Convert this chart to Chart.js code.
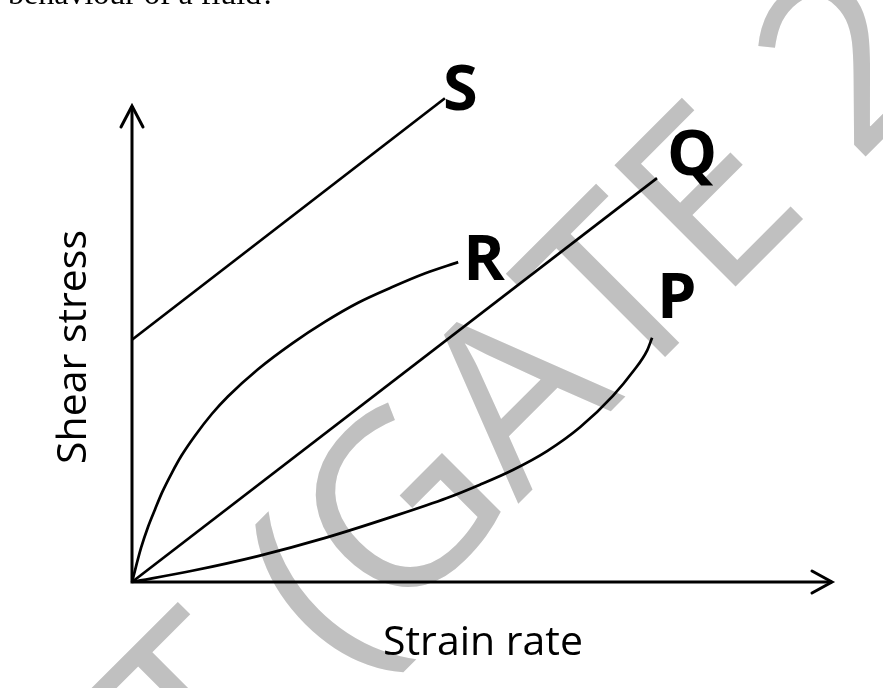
<!DOCTYPE html>
<html>
<head>
<meta charset="utf-8">
<script src="https://cdn.jsdelivr.net/npm/chart.js@4.4.0/dist/chart.umd.min.js"></script>
<style>
  html, body { margin: 0; padding: 0; background: #ffffff; }
  #wrap { width: 883px; height: 688px; }
</style>
</head>
<body>
<div id="wrap"><canvas id="c" width="883" height="688"></canvas></div>
<script>
// ---- data (arbitrary units) ----
const seriesNames = ['S', 'R', 'Q', 'P'];
const sX = [0, 4.47];
const sY = [3.46, 6.91];
const rX = [0, 0.13, 0.23, 0.33, 0.43, 0.57, 0.71, 0.90, 1.14, 1.37, 1.80, 2.29, 2.76, 3.23, 3.71, 4.19, 4.66];
const rY = [0, 0.49, 0.79, 1.04, 1.28, 1.56, 1.81, 2.09, 2.40, 2.65, 3.04, 3.41, 3.72, 3.99, 4.21, 4.41, 4.57];
const qX = [0, 7.50];
const qY = [0, 5.77];
const pX = [0, 0.86, 1.80, 2.76, 3.71, 4.50, 4.97, 5.44, 5.93, 6.40, 6.87, 7.16, 7.36, 7.43];
const pY = [0, 0.16, 0.37, 0.63, 0.93, 1.20, 1.39, 1.60, 1.87, 2.21, 2.66, 3.01, 3.31, 3.49];
const xAxisMax = 10.0;
const yAxisMax = 6.8;
const xTitle = 'Strain rate';
const yTitle = 'Shear stress';
const topText = 'behaviour of a fluid?';
const watermarkText = 'T (GATE 2';

function pts(xs, ys) { return xs.map((x, i) => ({ x: x, y: ys[i] })); }

const seriesX = [sX, rX, qX, pX];
const seriesY = [sY, rY, qY, pY];
const curved = [false, true, false, true];

const datasets = seriesNames.map((n, i) => ({
  label: n,
  data: pts(seriesX[i], seriesY[i]),
  showLine: true,
  borderColor: '#000000',
  borderWidth: 2.7,
  pointRadius: 0,
  fill: false,
  clip: false,
  cubicInterpolationMode: curved[i] ? 'monotone' : 'default',
  tension: 0
}));

// label offsets (pixels) relative to the last point of each series
const labelOffsets = {
  S: [-2, 12],
  R: [5, 18],
  Q: [10, -3],
  P: [5, -20]
};

const bgPlugin = {
  id: 'bg',
  beforeDraw(chart) {
    const ctx = chart.ctx;
    ctx.save();
    ctx.fillStyle = '#ffffff';
    ctx.fillRect(0, 0, chart.width, chart.height);
    ctx.restore();
  }
};

const watermarkPlugin = {
  id: 'watermark',
  beforeDatasetsDraw(chart) {
    const ctx = chart.ctx;
    ctx.save();
    const size = 240;
    ctx.font = size + 'px "Open Sans"';
    const pre = ctx.measureText('T (GAT').width + 0.09 * size + 11;
    const c = Math.SQRT1_2;
    const ex = 742, ey = 280;
    const ox = ex - pre * c;
    const oy = ey + pre * c;
    ctx.translate(ox, oy);
    ctx.rotate(-Math.PI / 4);
    ctx.fillStyle = '#c0c0c0';
    ctx.textBaseline = 'alphabetic';
    ctx.fillText(watermarkText, 0, 0);
    ctx.restore();
  }
};

const axesPlugin = {
  id: 'axesArrows',
  afterDatasetsDraw(chart) {
    const ctx = chart.ctx;
    const xs = chart.scales.x, ys = chart.scales.y;
    const x0 = xs.getPixelForValue(0), y0 = ys.getPixelForValue(0);
    const x1 = xs.getPixelForValue(xAxisMax), y1 = ys.getPixelForValue(yAxisMax);
    ctx.save();
    ctx.strokeStyle = '#000000';
    ctx.lineWidth = 3;
    ctx.lineCap = 'butt';
    ctx.beginPath();
    ctx.moveTo(x0 - 1.5, y0); ctx.lineTo(x1, y0);
    ctx.moveTo(x0, y0 + 1.5); ctx.lineTo(x0, y1);
    ctx.stroke();
    ctx.lineCap = 'round';
    ctx.lineJoin = 'miter';
    ctx.beginPath();
    ctx.moveTo(x1 - 20, y0 - 11); ctx.lineTo(x1, y0); ctx.lineTo(x1 - 20, y0 + 11);
    ctx.moveTo(x0 - 11, y1 + 21); ctx.lineTo(x0, y1); ctx.lineTo(x0 + 11, y1 + 21);
    ctx.stroke();

    // series labels
    ctx.fillStyle = '#000000';
    ctx.font = 'bold 63px "Open Sans"';
    ctx.textAlign = 'left';
    ctx.textBaseline = 'alphabetic';
    chart.data.datasets.forEach((ds, i) => {
      const meta = chart.getDatasetMeta(i);
      const last = meta.data[meta.data.length - 1];
      const off = labelOffsets[ds.label];
      ctx.fillText(ds.label, last.x + off[0], last.y + off[1]);
    });

    // axis titles
    ctx.font = '41px "Open Sans"';
    ctx.textAlign = 'center';
    ctx.textBaseline = 'alphabetic';
    ctx.fillText(xTitle, 483, 655);
    ctx.save();
    ctx.translate(86, 347);
    ctx.rotate(-Math.PI / 2);
    ctx.fillText(yTitle, 0, 0);
    ctx.restore();

    // cut-off text at the top
    ctx.font = '32px "Liberation Serif"';
    ctx.textAlign = 'left';
    ctx.textBaseline = 'alphabetic';
    ctx.fillText(topText, 8, 4);
    ctx.restore();
  }
};

new Chart(document.getElementById('c'), {
  type: 'scatter',
  data: { datasets: datasets },
  options: {
    responsive: false,
    animation: false,
    devicePixelRatio: 1,
    layout: { padding: { left: 132, right: 51, top: 106, bottom: 106 } },
    scales: {
      x: { type: 'linear', min: 0, max: xAxisMax, display: false },
      y: { type: 'linear', min: 0, max: yAxisMax, display: false }
    },
    plugins: {
      legend: { display: false },
      tooltip: { enabled: false },
      title: { display: false }
    }
  },
  plugins: [bgPlugin, watermarkPlugin, axesPlugin]
});
</script>
</body>
</html>
